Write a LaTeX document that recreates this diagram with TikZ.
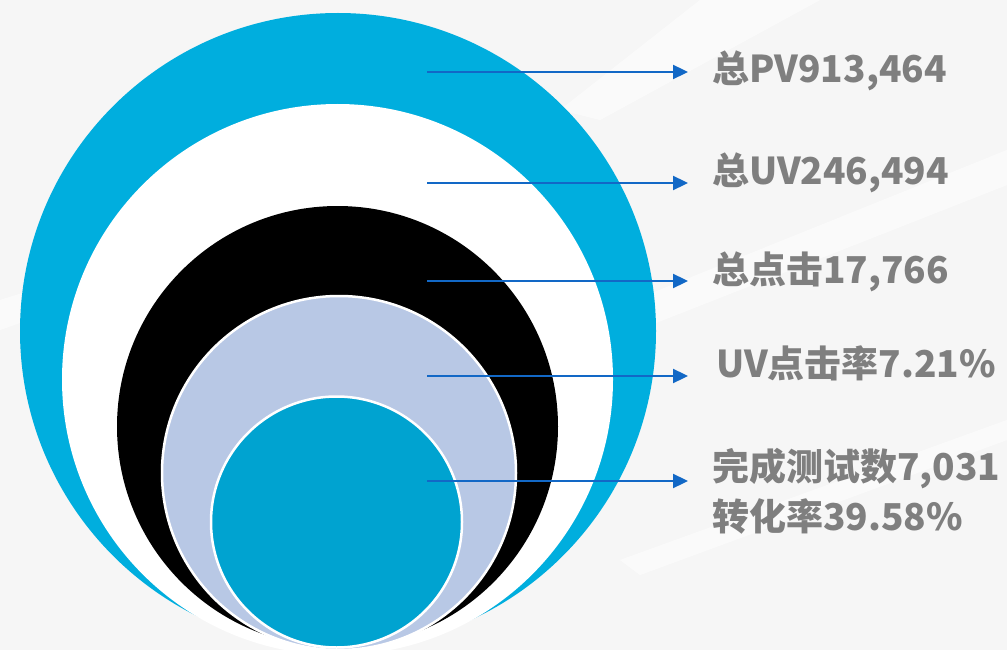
\documentclass[tikz,border=0pt]{standalone}
\usepackage{fontspec}
\newfontfamily\cjk{Noto Sans CJK SC}
\usetikzlibrary{arrows.meta}
\definecolor{bgc}{RGB}{246,246,246}
\definecolor{cyanc}{RGB}{0,174,222}
\definecolor{lbc}{RGB}{184,200,229}
\definecolor{tealc}{RGB}{0,163,208}
\definecolor{arrc}{RGB}{18,104,198}
\definecolor{txtc}{RGB}{127,127,127}
\tikzset{
  ptr/.style={draw=arrc, line width=2.3pt, -{Triangle[length=15pt,width=14pt]}},
  lbl/.style={anchor=base west, inner sep=0pt, text=txtc, font=\cjk\bfseries\fontsize{37}{50}\selectfont, align=left},
  streak/.style={fill=white, opacity=0.55}
}
\begin{document}
\begin{tikzpicture}[x=1pt,y=-1pt]
\useasboundingbox (0,0) rectangle (1007,650);
\fill[bgc] (0,0) rectangle (1007,650);
% faint background streaks
\fill[streak] (560,330) -- (1007,150) -- (1007,185) -- (600,345) -- cycle;
\fill[streak] (0,300) -- (160,250) -- (170,270) -- (0,330) -- cycle;
\fill[streak] (620,560) -- (1007,420) -- (1007,440) -- (640,575) -- cycle;
\fill[streak] (700,0) -- (820,0) -- (600,120) -- (560,110) -- cycle;
% nested circles
\fill[cyanc] (338,331) circle[radius=318pt];
\fill[white] (337.5,379.5) circle[radius=275.5pt];
\fill[black] (337.5,426.5) circle[radius=220.5pt];
\filldraw[fill=lbc, draw=white, line width=2.5pt] (339,473) circle[radius=177pt];
\filldraw[fill=tealc, draw=white, line width=2.5pt] (336.5,522) circle[radius=125.5pt];
% labels
\node[lbl] (t1) at (712,83) {总PV913,464};
\node[lbl] (t2) at (712,185) {总UV246,494};
\node[lbl] (t3) at (712,283) {总点击17,766};
\node[lbl] (t4) at (716,377) {UV点击率7.21\%};
\node[lbl] (t5) at (712,480) {完成测试数7,031};
\node[lbl] (t6) at (712,530) {转化率39.58\%};
% arrow ends
\coordinate (s1) at (427,72);  \coordinate (e1) at (688,72);
\coordinate (s2) at (427,183); \coordinate (e2) at (688,183);
\coordinate (s3) at (427,281); \coordinate (e3) at (688,281);
\coordinate (s4) at (427,376); \coordinate (e4) at (688,376);
\coordinate (s5) at (427,481); \coordinate (e5) at (688,481);
\draw[ptr] (s1) -- (e1);
\draw[ptr] (s2) -- (e2);
\draw[ptr] (s3) -- (e3);
\draw[ptr] (s4) -- (e4);
\draw[ptr] (s5) -- (e5);
\end{tikzpicture}
\end{document}
